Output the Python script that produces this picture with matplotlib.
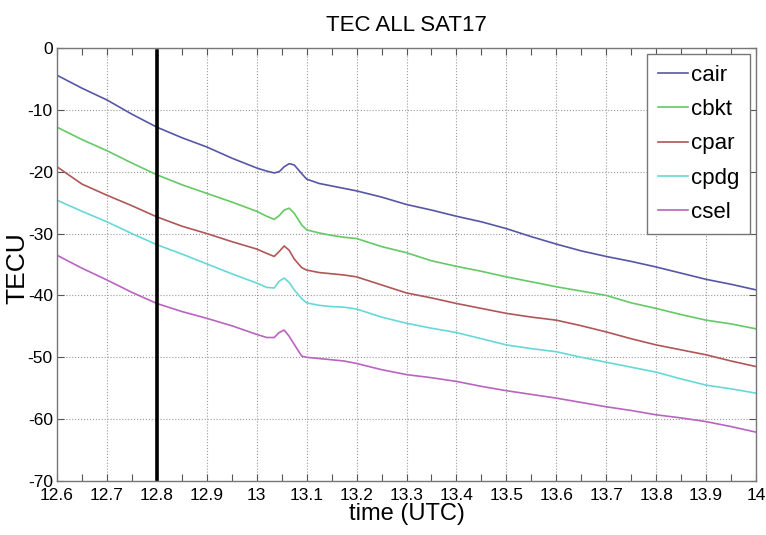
import matplotlib.pyplot as plt
from matplotlib.ticker import MultipleLocator

# time axis (UTC hours), finer around the disturbance near 13.05
time = [12.6, 12.65, 12.7, 12.75, 12.8, 12.85, 12.9, 12.95, 13.0, 13.02,
        13.035, 13.045, 13.055, 13.065, 13.075, 13.09, 13.1, 13.125, 13.15,
        13.175, 13.2, 13.25, 13.3, 13.35, 13.4, 13.45, 13.5, 13.55, 13.6,
        13.65, 13.7, 13.75, 13.8, 13.85, 13.9, 13.95, 14.0]

cair = [-4.4, -6.5, -8.4, -10.7, -12.8, -14.5, -16.0, -17.8, -19.4, -19.9,
        -20.2, -20.0, -19.2, -18.7, -18.9, -20.3, -21.2, -21.9, -22.3,
        -22.7, -23.1, -24.1, -25.3, -26.2, -27.2, -28.1, -29.2, -30.5, -31.7,
        -32.8, -33.7, -34.5, -35.4, -36.4, -37.4, -38.2, -39.1]
cbkt = [-12.8, -14.8, -16.6, -18.6, -20.5, -22.1, -23.5, -24.9, -26.4, -27.2,
        -27.7, -27.1, -26.2, -25.9, -26.7, -28.6, -29.4, -29.9, -30.3,
        -30.6, -30.8, -32.1, -33.1, -34.4, -35.3, -36.1, -37.0, -37.8, -38.6,
        -39.3, -40.0, -41.2, -42.1, -43.1, -44.0, -44.6, -45.4]
cpar = [-19.2, -22.0, -23.8, -25.5, -27.3, -28.8, -30.0, -31.3, -32.5, -33.2,
        -33.7, -32.9, -32.0, -32.7, -34.1, -35.5, -35.9, -36.3, -36.5,
        -36.7, -37.0, -38.3, -39.6, -40.4, -41.3, -42.1, -42.9, -43.5, -44.0,
        -44.9, -45.9, -47.0, -48.0, -48.8, -49.6, -50.6, -51.5]
cpdg = [-24.6, -26.4, -28.1, -30.0, -31.8, -33.3, -34.9, -36.5, -38.0, -38.7,
        -38.8, -37.7, -37.2, -37.9, -39.1, -40.5, -41.2, -41.6, -41.8,
        -41.9, -42.2, -43.5, -44.5, -45.3, -46.0, -47.0, -48.0, -48.6, -49.1,
        -50.0, -50.8, -51.6, -52.4, -53.5, -54.5, -55.1, -55.8]
csel = [-33.5, -35.6, -37.5, -39.5, -41.3, -42.6, -43.7, -44.9, -46.3, -46.8,
        -46.8, -46.0, -45.6, -46.6, -47.9, -49.8, -50.0, -50.2, -50.4,
        -50.6, -51.0, -52.0, -52.8, -53.3, -53.9, -54.7, -55.4, -56.0, -56.6,
        -57.3, -58.0, -58.6, -59.3, -59.8, -60.4, -61.2, -62.1]

names = ["cair", "cbkt", "cpar", "cpdg", "csel"]
colors = ["#5656a6", "#66c866", "#b05656", "#66d8d8", "#b864c0"]
marker_time = 12.8

plt.rcParams['font.family'] = ['Liberation Sans', 'DejaVu Sans']
plt.rcParams['axes.unicode_minus'] = False

fig = plt.figure(figsize=(7.66, 5.35), dpi=100)
ax = fig.add_axes([0.0744, 0.1009, 0.9126, 0.8094])

for vals, name, c in zip([cair, cbkt, cpar, cpdg, csel], names, colors):
    ax.plot(time, vals, color=c, lw=1.2, label=name)

ax.axvline(marker_time, ymin=0, ymax=0.992, color="black", lw=2.6)

ax.set_xlim(12.6, 14)
ax.set_ylim(-70, 0)
ax.xaxis.set_major_locator(MultipleLocator(0.1))
ax.xaxis.set_minor_locator(MultipleLocator(0.05))
ax.yaxis.set_major_locator(MultipleLocator(10))
ax.set_xticklabels([f"{v:g}" for v in ax.get_xticks()])
ax.tick_params(which="both", direction="in", top=True, right=True,
               length=5, width=0.8, color="#555555", labelsize=12.5)
ax.tick_params(axis="x", pad=5)
ax.tick_params(axis="y", pad=3)
ax.grid(True, which="major", linestyle=":", color="#999999", lw=0.8)
for s in ax.spines.values():
    s.set_color("#777777")
    s.set_linewidth(1.0)

ax.set_title("TEC ALL SAT17", fontsize=16, pad=12)
ax.set_xlabel("time (UTC)", fontsize=17, labelpad=0)
fig.text(17.5 / 766, 0.499, "TECU", rotation=90, ha="center", va="center", fontsize=19)

leg = ax.legend(loc="upper right", fontsize=16, labelspacing=0.6, handlelength=1.35,
                handletextpad=0.15, borderpad=0.5, borderaxespad=0.25,
                fancybox=False, framealpha=1)
leg.get_frame().set_edgecolor("#777777")
leg.get_frame().set_linewidth(1.0)

fig.savefig("out.png", dpi=100)
